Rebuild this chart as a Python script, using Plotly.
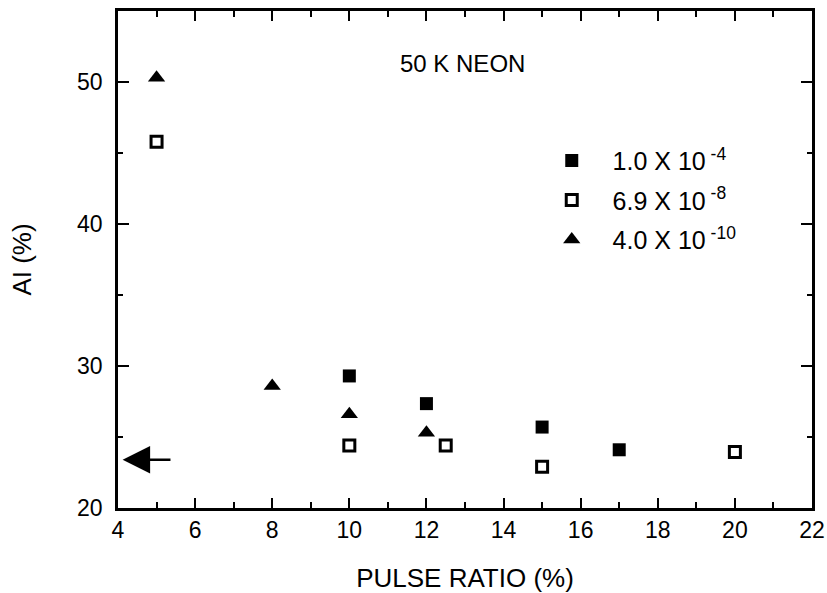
import plotly.graph_objects as go

# Series: pressure 1.0e-4 (filled squares)
x_a = [10, 12, 15, 17]
y_a = [29.3, 27.35, 25.7, 24.1]
# Series: 6.9e-8 (open squares)
x_b = [5, 10, 12.5, 15, 20]
y_b = [45.8, 24.4, 24.4, 22.9, 23.95]
# Series: 4.0e-10 (filled triangles)
x_c = [5, 8, 10, 12]
y_c = [50.3, 28.6, 26.6, 25.3]

names = ["1.0 X 10<sup> -4</sup>", "6.9 X 10<sup> -8</sup>", "4.0 X 10<sup> -10</sup>"]
x_ticks = [4, 6, 8, 10, 12, 14, 16, 18, 20, 22]
y_ticks = [20, 30, 40, 50]

arrow_y = 23.4
arrow_tail_x = 5.4
arrow_tip_x = 4.12

FONT = "Liberation Sans, Arial, Helvetica, sans-serif"
PAD = "&nbsp;&nbsp;&nbsp;"

fig = go.Figure()
fig.add_trace(go.Scatter(x=x_a, y=y_a, mode="markers", name=PAD + names[0], legendgroup="a",
                         marker=dict(symbol="square", size=13, color="black")))
fig.add_trace(go.Scatter(x=x_b, y=y_b, mode="markers", name=PAD + names[1], legendgroup="b",
                         marker=dict(symbol="square-open", size=11, color="black",
                                     line=dict(width=3, color="black"))))
fig.add_trace(go.Scatter(x=x_c, y=y_c, mode="markers", name=PAD + names[2], legendgroup="c",
                         marker=dict(symbol="triangle-up", size=15, color="black")))

fig.add_annotation(x=arrow_tip_x, y=arrow_y, ax=arrow_tail_x, ay=arrow_y,
                   xref="x", yref="y", axref="x", ayref="y", text="",
                   showarrow=True, arrowhead=2, arrowsize=2.2, arrowwidth=2.5,
                   arrowcolor="black")
fig.add_annotation(x=0.496, y=0.895, xref="paper", yref="paper", text="50 K NEON",
                   xanchor="center", yanchor="middle",
                   showarrow=False, font=dict(size=24, color="black", family=FONT))

axis_common = dict(showline=True, linecolor="black", linewidth=2.5, mirror="ticks",
                   ticks="inside", tickcolor="black", tickwidth=2, showgrid=False,
                   zeroline=False, automargin=False,
                   tickfont=dict(size=23, color="black", family=FONT))

fig.update_xaxes(range=[4, 22], tickvals=x_ticks, ticklen=10,
                 minor=dict(ticks="inside", dtick=1, tick0=4, ticklen=6, tickwidth=2,
                            tickcolor="black", showgrid=False),
                 title=dict(text="PULSE RATIO (%)", font=dict(size=26, color="black", family=FONT),
                            standoff=27),
                 **axis_common)
fig.update_yaxes(range=[20, 55], tickvals=y_ticks, ticklen=11, ticklabelstandoff=8,
                 minor=dict(ticks="inside", dtick=5, tick0=20, ticklen=5, tickwidth=2,
                            tickcolor="black", showgrid=False),
                 title=dict(text="AI (%)", font=dict(size=26, color="black", family=FONT),
                            standoff=38),
                 **axis_common)

fig.update_layout(
    width=827, height=593,
    margin=dict(l=118, r=15, t=11, b=85),
    plot_bgcolor="white", paper_bgcolor="white",
    showlegend=True,
    legend=dict(x=0.625, y=0.745, xanchor="left", yanchor="top", bgcolor="rgba(0,0,0,0)",
                font=dict(size=25, color="black", family=FONT), tracegroupgap=4,
                itemsizing="trace"),
)

fig.write_html("out.html", config={"displayModeBar": False},
               post_script="document.body.style.margin='0';")
